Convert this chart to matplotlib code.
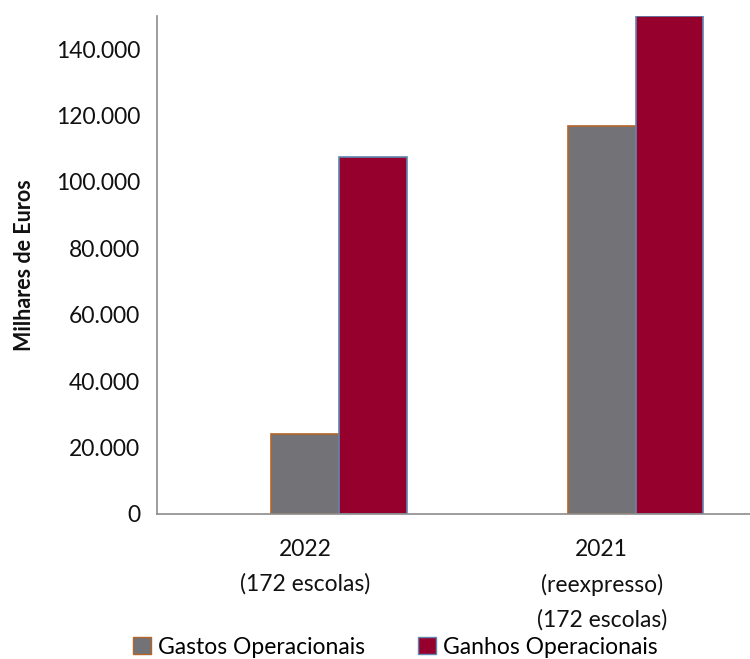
import matplotlib.pyplot as plt
import numpy as np
from matplotlib.ticker import FuncFormatter, MultipleLocator
from matplotlib.patches import Patch

categories = ["2022\n(172 escolas)", "2021\n(reexpresso)\n(172 escolas)"]
gastos = [24100, 117000]
ganhos = [107400, 150000]

plt.rcParams['font.family'] = ['Lato', 'DejaVu Sans']

fig = plt.figure(figsize=(7.5, 6.59), dpi=100)
ax = fig.add_axes([157 / 750, 1 - 514 / 659, 1 - 157 / 750, (514 - 16) / 659])

x = np.arange(len(categories))
w = 0.2277
ax.bar(x, gastos, w, color="#737276", edgecolor="#B5652A", linewidth=1.2, label="Gastos Operacionais")
ax.bar(x + w, ganhos, w, color="#96002D", edgecolor="#5F86B0", linewidth=1.2, label="Ganhos Operacionais")

ax.set_xlim(-0.5, 1.5)
ax.set_ylim(0, 150000)
ax.yaxis.set_major_locator(MultipleLocator(20000))
ax.yaxis.set_major_formatter(FuncFormatter(lambda v, p: f"{int(v):,}".replace(",", ".")))
ax.set_xticks(x)
ax.set_xticklabels(categories, fontsize=16.5, linespacing=1.75, color="#111111")
ax.tick_params(axis="y", labelsize=16.5, length=0, pad=12, labelcolor="#111111")
ax.tick_params(axis="x", length=0, pad=18)

for s in ["top", "right"]:
    ax.spines[s].set_visible(False)
for s in ["left", "bottom"]:
    ax.spines[s].set_color("#8c8c8c")
    ax.spines[s].set_linewidth(1.2)

ax.set_ylabel("Milhares de Euros", fontsize=15.5, fontweight="bold", color="#111111")
ax.yaxis.set_label_coords(-0.205, 0.5)

handles = [Patch(facecolor="#737276", edgecolor="#B5652A"),
           Patch(facecolor="#96002D", edgecolor="#5F86B0")]
fig.legend(handles, ["Gastos Operacionais", "Ganhos Operacionais"], loc="center",
           bbox_to_anchor=(0.527, 1 - 647 / 659), ncol=2, frameon=False, fontsize=16.5,
           handlelength=0.8, handleheight=0.8, handletextpad=0.3, columnspacing=2.3,
           borderpad=0)

fig.savefig("out.png", dpi=100)
